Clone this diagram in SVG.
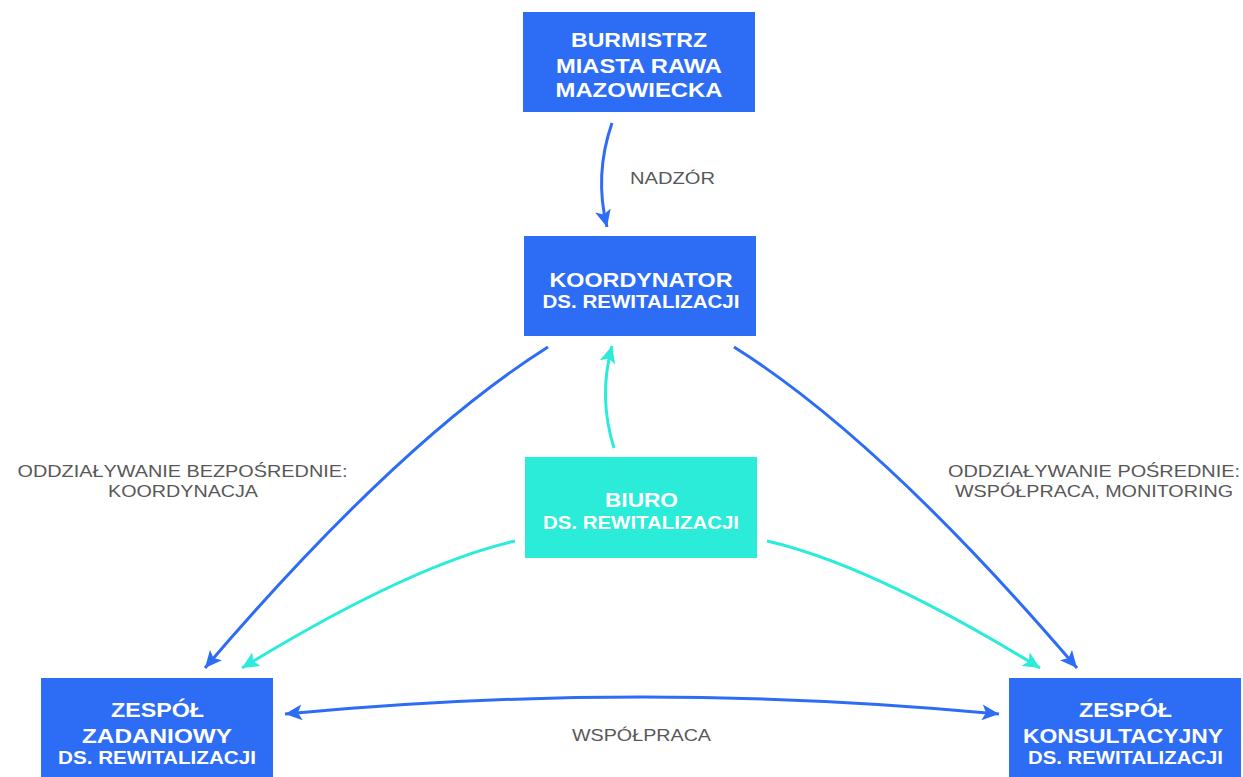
<svg xmlns="http://www.w3.org/2000/svg" width="1243" height="777" viewBox="0 0 1243 777">
<style>
.blue{fill:#2d6df6}
.teal{fill:#2aecd9}
.t{font-family:"Liberation Sans",Arial,sans-serif;font-weight:bold;fill:#ffffff;text-anchor:middle}
.h{font-size:19.5px}
.s{font-size:18px}
.lbl{font-family:"Liberation Sans",Arial,sans-serif;font-size:16.5px;fill:#585858;text-anchor:middle}
.cb{fill:none;stroke:#2d6df6;stroke-width:3}
.ct{fill:none;stroke:#2aecd9;stroke-width:3}
</style>
<defs>
<marker id="ab" markerUnits="userSpaceOnUse" markerWidth="18" markerHeight="16" refX="17" refY="8" orient="auto-start-reverse" viewBox="0 0 18 16">
<path d="M0,0 L17,8 L0,16 L4,8 z" fill="#2d6df6"/>
</marker>
<marker id="at" markerUnits="userSpaceOnUse" markerWidth="18" markerHeight="16" refX="17" refY="8" orient="auto-start-reverse" viewBox="0 0 18 16">
<path d="M0,0 L17,8 L0,16 L4,8 z" fill="#2aecd9"/>
</marker>
</defs>
<rect width="1243" height="777" fill="#ffffff"/>
<g id="connectors">
<path class="cb" d="M612,123 Q594,175 607,227" marker-end="url(#ab)"/>
<path class="ct" d="M614,448 Q598,397 612,346" marker-end="url(#at)"/>
<path class="cb" d="M548,347 Q400,440 205,668" marker-end="url(#ab)"/>
<path class="cb" d="M734,347 Q882,440 1077,668" marker-end="url(#ab)"/>
<path class="ct" d="M515,541 Q410,565 242,668" marker-end="url(#at)"/>
<path class="ct" d="M767,541 Q872,565 1040,668" marker-end="url(#at)"/>
<path class="cb" d="M285,714 Q642,680 999,714" marker-start="url(#ab)" marker-end="url(#ab)"/>
<text class="lbl" x="672.5" y="184" textLength="85" lengthAdjust="spacingAndGlyphs">NADZÓR</text>
<text class="lbl" x="641.5" y="741" textLength="139" lengthAdjust="spacingAndGlyphs">WSPÓŁPRACA</text>
<text class="lbl" x="182.5" y="477" textLength="330" lengthAdjust="spacingAndGlyphs">ODDZIAŁYWANIE BEZPOŚREDNIE:</text>
<text class="lbl" x="183" y="497" textLength="150" lengthAdjust="spacingAndGlyphs">KOORDYNACJA</text>
<text class="lbl" x="1094" y="477" textLength="292" lengthAdjust="spacingAndGlyphs">ODDZIAŁYWANIE POŚREDNIE:</text>
<text class="lbl" x="1094" y="497" textLength="278" lengthAdjust="spacingAndGlyphs">WSPÓŁPRACA, MONITORING</text>
</g>
<g id="burmistrz">
<rect class="blue" x="523" y="12" width="232" height="100"/>
<text class="t h" x="639" y="47" textLength="136" lengthAdjust="spacingAndGlyphs">BURMISTRZ</text>
<text class="t h" x="639" y="73" textLength="166" lengthAdjust="spacingAndGlyphs">MIASTA RAWA</text>
<text class="t h" x="639" y="97" textLength="167" lengthAdjust="spacingAndGlyphs">MAZOWIECKA</text>
</g>
<g id="koordynator">
<rect class="blue" x="524" y="236" width="232" height="100"/>
<text class="t h" x="641" y="287" textLength="183" lengthAdjust="spacingAndGlyphs">KOORDYNATOR</text>
<text class="t s" x="641" y="308" textLength="197" lengthAdjust="spacingAndGlyphs">DS. REWITALIZACJI</text>
</g>
<g id="biuro">
<rect class="teal" x="525" y="457" width="232" height="101"/>
<text class="t h" x="641.5" y="507" textLength="73" lengthAdjust="spacingAndGlyphs">BIURO</text>
<text class="t s" x="641" y="529" textLength="196" lengthAdjust="spacingAndGlyphs">DS. REWITALIZACJI</text>
</g>
<g id="zespol-zadaniowy">
<rect class="blue" x="41" y="678" width="232" height="110"/>
<text class="t h" x="157.5" y="717" textLength="93" lengthAdjust="spacingAndGlyphs">ZESPÓŁ</text>
<text class="t h" x="157" y="743" textLength="150" lengthAdjust="spacingAndGlyphs">ZADANIOWY</text>
<text class="t s" x="157" y="764" textLength="198" lengthAdjust="spacingAndGlyphs">DS. REWITALIZACJI</text>
</g>
<g id="zespol-konsultacyjny">
<rect class="blue" x="1009" y="678" width="232" height="110"/>
<text class="t h" x="1125.5" y="717" textLength="93" lengthAdjust="spacingAndGlyphs">ZESPÓŁ</text>
<text class="t h" x="1123" y="743" textLength="200" lengthAdjust="spacingAndGlyphs">KONSULTACYJNY</text>
<text class="t s" x="1125.5" y="764" textLength="195" lengthAdjust="spacingAndGlyphs">DS. REWITALIZACJI</text>
</g>
</svg>
